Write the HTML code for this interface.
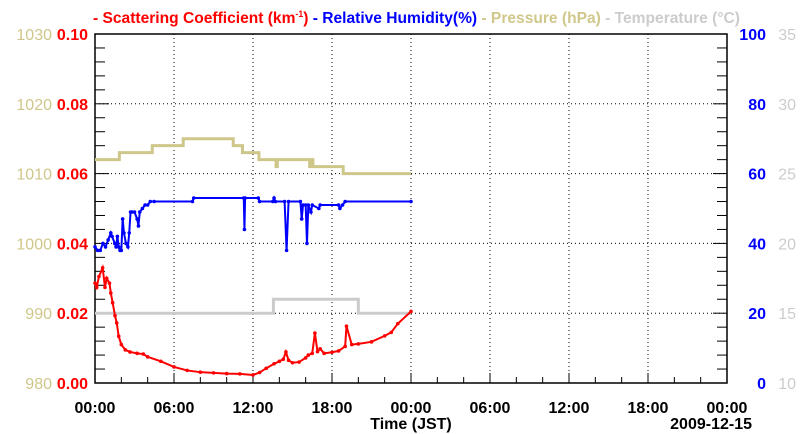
<!DOCTYPE html>
<html><head><meta charset="utf-8"><style>
body{margin:0;background:#fff}
svg{display:block;font-family:"Liberation Sans",sans-serif;font-weight:bold}
</style></head><body>
<svg id="c" width="800" height="434" xmlns="http://www.w3.org/2000/svg">
<text x="93" y="23" font-size="16" textLength="647" lengthAdjust="spacingAndGlyphs"><tspan fill="#ff0000">- Scattering Coefficient (km<tspan font-size="9" dy="-6">-1</tspan><tspan dy="6">) </tspan></tspan><tspan fill="#0000ff">- Relative Humidity(%) </tspan><tspan fill="#d0c88a">- Pressure (hPa) </tspan><tspan fill="#cccccc">- Temperature (°C)</tspan></text>
<g id="grid"></g><g id="axes"></g><g id="series"></g>
<text x="411" y="429" text-anchor="middle" font-size="16">Time (JST)</text>
<text x="752" y="429" text-anchor="end" font-size="16">2009-12-15</text>
</svg>
<script>
const hoursTicks=[0,6,12,18,24,30,36,42,48];
const xTickLabels=["00:00","06:00","12:00","18:00","00:00","06:00","12:00","18:00","00:00"];
const scatTicks=["0.00","0.02","0.04","0.06","0.08","0.10"];
const presTicks=["980","990","1000","1010","1020","1030"];
const rhTicks=["0","20","40","60","80","100"];
const tempTicks=["10","15","20","25","30","35"];
const scatH=[0,0.13,0.3,0.58,0.76,0.89,1.1,1.2,1.34,1.52,1.65,1.8,2.0,2.3,2.66,3.2,3.67,4,5,6,7,8,9,10,11,12,12.5,13,13.6,14,14.3,14.5,14.7,15,15.5,16,16.2,16.5,16.7,16.9,17.1,17.4,18,18.5,19,19.1,19.5,20,21,22,22.5,23,24];
const scatV=[0.0286,0.0274,0.0305,0.033,0.0274,0.030,0.0286,0.0258,0.023,0.0193,0.0172,0.0134,0.011,0.0095,0.0089,0.0085,0.0083,0.0075,0.0062,0.0046,0.0036,0.0031,0.0029,0.0027,0.0026,0.0023,0.0030,0.0042,0.0055,0.0062,0.0068,0.0089,0.0065,0.0058,0.0060,0.0072,0.0080,0.0085,0.0143,0.0090,0.0098,0.0085,0.0088,0.0092,0.0105,0.0163,0.0110,0.0112,0.0118,0.0135,0.0145,0.0170,0.0205];
const rhH=[0,0.2,0.4,0.6,0.8,1.0,1.2,1.3,1.5,1.6,1.7,1.8,1.9,2.0,2.1,2.2,2.35,2.5,2.6,2.7,2.8,3.0,3.2,3.3,3.4,3.6,3.8,4.0,4.2,4.5,7.4,7.5,11.3,11.35,11.4,12.4,12.5,13.5,13.6,13.7,14.4,14.55,14.7,15.6,15.7,15.8,16.0,16.1,16.2,16.4,16.5,17.0,17.1,18.5,18.6,18.8,19.0,24];
const rhV=[39,38,38,40,39,41,43,42,40,39,42,39,38,38,47,43,40,39,43,49,49,49,47,45,49,50,51,51,52,52,52,53,53,44,53,53,52,52,53,52,52,38,52,52,47,51,51,40,51,49,51,50,51,51,50,51,52,52];
const presH=[0,1.85,4.35,6.7,10.5,11.2,12.45,13.75,13.85,16.3,16.35,16.55,18.85,24];
const presV=[1012,1013,1014,1015,1014,1013,1012,1011,1012,1011,1012,1011,1010,1010];
const tempH=[0,13.55,20.0,24];
const tempV=[15,16,15,15];
const L=95,R=727,T=34,B=383;
const X=h=>L+(R-L)*h/48;
const yS=v=>B-(B-T)*v/0.1, yP=v=>B-(B-T)*(v-980)/50, yR=v=>B-(B-T)*v/100, yT=v=>B-(B-T)*(v-10)/25;
const NS="http://www.w3.org/2000/svg";
function mk(tag,attrs,parent){const e=document.createElementNS(NS,tag);for(const k in attrs)e.setAttribute(k,attrs[k]);parent.appendChild(e);return e;}
const grid=document.getElementById('grid'),axes=document.getElementById('axes'),ser=document.getElementById('series');
hoursTicks.forEach((h,i)=>{
 if(i>0&&i<8){const g=mk('line',{x1:X(h),x2:X(h),y1:T,y2:B,stroke:'#000','stroke-dasharray':'1,3','stroke-width':1},grid);
 
 }
 const t=mk('text',{x:X(h),y:413,'text-anchor':'middle','font-size':16},axes);t.textContent=xTickLabels[i];
 
 
});
for(let h=2;h<48;h+=2){if(h%6)mk('line',{x1:X(h),x2:X(h),y1:B,y2:B-6,stroke:'#000'},axes);else mk('line',{x1:X(h),x2:X(h),y1:B,y2:B-10,stroke:'#000'},axes);}
for(let i=0;i<6;i++){
 const y=B-(B-T)*i/5;
 if(i>0&&i<5){const g=mk('line',{x1:L,x2:R,y1:y,y2:y,stroke:'#000','stroke-dasharray':'1,3'},grid);
 
 }
 const a=mk('text',{x:52,y:y+6,'text-anchor':'end','font-size':16,fill:'#cfc78a','font-weight':'normal'},axes);a.textContent=presTicks[i];
 
 
 const b=mk('text',{x:88,y:y+6,'text-anchor':'end','font-size':16,fill:'#ff0000'},axes);b.textContent=scatTicks[i];
 
 
 const c=mk('text',{x:766,y:y+6,'text-anchor':'end','font-size':16,fill:'#0000ff'},axes);c.textContent=rhTicks[i];
 
 
 const d=mk('text',{x:796,y:y+6,'text-anchor':'end','font-size':16,fill:'#cccccc','font-weight':'normal'},axes);d.textContent=tempTicks[i];
 
 
}
for(let j=1;j<25;j++){const y=B-(B-T)*j/25;const w=(j%5)?10:14;mk('line',{x1:L,x2:L+w,y1:y,y2:y,stroke:'#000'},axes);mk('line',{x1:R,x2:R-w,y1:y,y2:y,stroke:'#000'},axes);}
const fr=mk('rect',{x:L,y:T,width:R-L,height:B-T,fill:'none',stroke:'#000','stroke-width':1.5},axes);


function step(hs,vs,yf){let d='M'+X(hs[0])+','+yf(vs[0]);for(let i=1;i<hs.length;i++){d+=' H'+X(hs[i])+' V'+yf(vs[i]);}return d;}
const p=mk('path',{d:step(presH,presV,yP),fill:'none',stroke:'#cfc78a','stroke-width':3},ser);


const t=mk('path',{d:step(tempH,tempV,yT),fill:'none',stroke:'#cccccc','stroke-width':3},ser);


function line(hs,vs,yf,col,name){
 const pts=hs.map((h,i)=>X(h)+','+yf(vs[i])).join(' ');
 const l=mk('polyline',{points:pts,fill:'none',stroke:col,'stroke-width':2},ser);
 
 
 hs.forEach((h,i)=>{const c=mk('circle',{cx:X(h),cy:yf(vs[i]),r:1.8,fill:col},ser);
 
 });
}
line(rhH,rhV,yR,'#0000ff','humidity-series');
line(scatH,scatV,yS,'#ff0000','scattering-series');
</script>
</body></html>
